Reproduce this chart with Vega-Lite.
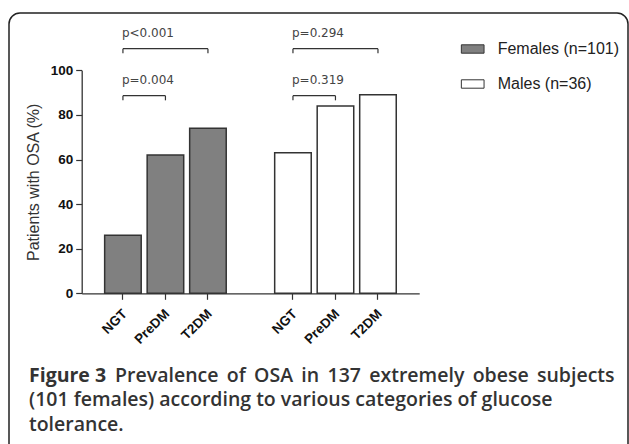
{
  "$schema": "https://vega.github.io/schema/vega-lite/v6.json",
  "width": 619,
  "height": 451,
  "autosize": {"type": "none"},
  "padding": {"left": 9, "top": 13, "right": 1, "bottom": -20},
  "background": "white",
  "view": {"stroke": "#222", "strokeWidth": 1.5, "cornerRadius": 11, "fill": "white"},
  "title": {
    "text": "Figure 3",
    "subtitle": ["\u200b\u00a0\u00a0\u00a0\u00a0\u00a0\u00a0\u00a0\u00a0\u00a0\u00a0\u00a0\u00a0\u00a0\u00a0\u00a0\u00a0\u00a0Prevalence \u2006of \u2006OSA \u2006in \u2006137 \u2006extremely \u2006obese \u2006subjects", "(101 females) according to various categories of glucose", "tolerance."],
    "orient": "top",
    "anchor": "start",
    "frame": "group",
    "offset": -422,
    "dx": 20,
    "font": "Open Sans",
    "fontSize": 19.5,
    "fontWeight": 700,
    "color": "#333",
    "subtitleFont": "Open Sans",
    "subtitleFontSize": 19.5,
    "subtitleFontWeight": 600,
    "subtitleColor": "#333",
    "subtitleLineHeight": 24.5,
    "subtitlePadding": -19.5
  },
  "datasets": {
    "bars": [
      {"bar": "Females|NGT", "sex": "Females (n=101)", "osa": 26},
      {"bar": "Females|PreDM", "sex": "Females (n=101)", "osa": 62},
      {"bar": "Females|T2DM", "sex": "Females (n=101)", "osa": 74},
      {"bar": "Males|NGT", "sex": "Males (n=36)", "osa": 63},
      {"bar": "Males|PreDM", "sex": "Males (n=36)", "osa": 84},
      {"bar": "Males|T2DM", "sex": "Males (n=36)", "osa": 89}
    ],
    "brackets": [
      {"label": "p<0.001", "from": "Females|NGT", "to": "Females|T2DM", "y": 109.7},
      {"label": "p=0.004", "from": "Females|NGT", "to": "Females|PreDM", "y": 88.6},
      {"label": "p=0.294", "from": "Males|NGT", "to": "Males|T2DM", "y": 109.7},
      {"label": "p=0.319", "from": "Males|NGT", "to": "Males|PreDM", "y": 88.6}
    ]
  },
  "layer": [
    {
      "data": {"name": "bars"},
      "mark": {"type": "bar", "stroke": "#333", "strokeWidth": 1.5},
      "encoding": {
        "x": {
          "field": "bar",
          "type": "nominal",
          "sort": null,
          "scale": {
            "domain": ["Females|NGT", "Females|PreDM", "Females|T2DM", "gap", "Males|NGT", "Males|PreDM", "Males|T2DM"],
            "range": [72.7, 410.2],
            "paddingInner": 0.14,
            "paddingOuter": 0.54
          },
          "axis": {
            "title": null,
            "values": ["Females|NGT", "Females|PreDM", "Females|T2DM", "Males|NGT", "Males|PreDM", "Males|T2DM"],
            "labelExpr": "split(datum.value, '|')[1]",
            "labelAngle": -45,
            "labelFont": "Liberation Sans",
            "labelFontSize": 13.5,
            "labelFontWeight": "bold",
            "labelColor": "#111",
            "labelPadding": 7,
            "labelOffset": -3,
            "tickSize": 6,
            "tickColor": "#333",
            "tickWidth": 1.2,
            "domainColor": "#333",
            "domainWidth": 1.3,
            "grid": false,
            "offset": -170.7
          }
        },
        "y": {
          "field": "osa",
          "type": "quantitative",
          "scale": {"domain": [0, 100], "range": [280.3, 57.3], "nice": false},
          "axis": {
            "title": "Patients with OSA (%)",
            "titleFont": "Liberation Sans",
            "titleFontSize": 16,
            "titleFontWeight": "normal",
            "titleColor": "#333",
            "titlePadding": 9,
            "values": [0, 20, 40, 60, 80, 100],
            "labelFont": "Liberation Sans",
            "labelFontSize": 13.5,
            "labelFontWeight": "bold",
            "labelColor": "#111",
            "labelPadding": 3,
            "tickSize": 6,
            "tickColor": "#333",
            "tickWidth": 1.2,
            "domainColor": "#333",
            "domainWidth": 1.3,
            "grid": false,
            "offset": -72.7
          }
        },
        "fill": {
          "field": "sex",
          "type": "nominal",
          "scale": {"domain": ["Females (n=101)", "Males (n=36)"], "range": ["#808080", "#ffffff"]},
          "legend": {
            "orient": "none",
            "legendX": 451.7,
            "legendY": 24,
            "title": null,
            "padding": 0,
            "symbolType": "M-1,-0.37H1V0.37H-1Z",
            "symbolSize": 515,
            "symbolStrokeColor": "#333",
            "symbolStrokeWidth": 1,
            "labelFont": "Liberation Sans",
            "labelFontSize": 16,
            "labelColor": "#222",
            "labelOffset": 13,
            "rowPadding": 15
          }
        }
      }
    },
    {
      "data": {"name": "brackets"},
      "mark": {"type": "rule", "stroke": "#333", "strokeWidth": 1.2},
      "encoding": {
        "x": {"field": "from", "type": "nominal", "bandPosition": 0.5},
        "x2": {"field": "to", "bandPosition": 0.5},
        "y": {"field": "y", "type": "quantitative"}
      }
    },
    {
      "data": {"name": "brackets"},
      "mark": {"type": "point", "shape": "M0,0L0,1", "size": 85, "filled": false, "stroke": "#333", "color": "#333", "strokeWidth": 1.2, "opacity": 1},
      "encoding": {
        "x": {"field": "from", "type": "nominal", "bandPosition": 0.5},
        "y": {"field": "y", "type": "quantitative"}
      }
    },
    {
      "data": {"name": "brackets"},
      "mark": {"type": "point", "shape": "M0,0L0,1", "size": 85, "filled": false, "stroke": "#333", "color": "#333", "strokeWidth": 1.2, "opacity": 1},
      "encoding": {
        "x": {"field": "to", "type": "nominal", "bandPosition": 0.5},
        "y": {"field": "y", "type": "quantitative"}
      }
    },
    {
      "data": {"name": "brackets"},
      "mark": {"type": "text", "align": "left", "baseline": "alphabetic", "dy": -11.7, "dx": -1, "font": "DejaVu Sans", "fontSize": 12, "fill": "#444"},
      "encoding": {
        "x": {"field": "from", "type": "nominal", "bandPosition": 0.5},
        "y": {"field": "y", "type": "quantitative"},
        "text": {"field": "label"}
      }
    }
  ]
}
